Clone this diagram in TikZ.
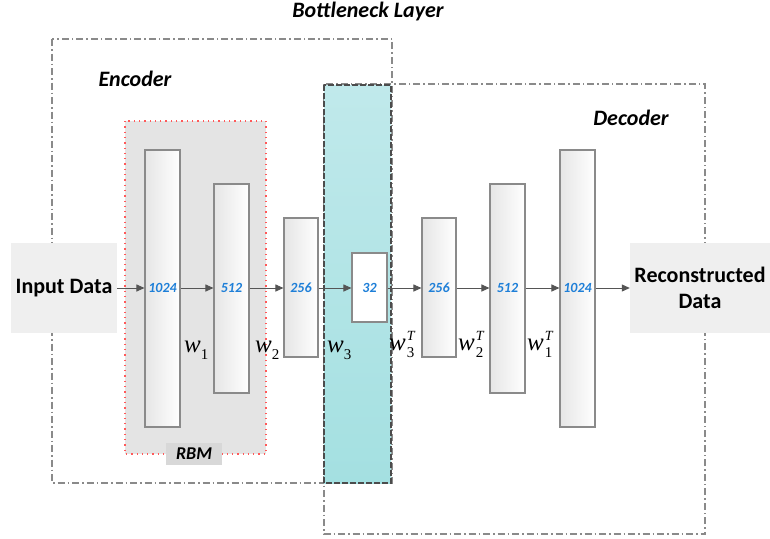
\documentclass[tikz,border=0pt]{standalone}
\usepackage{fontspec}
\setmainfont{Carlito}
\newfontfamily\wfont{Liberation Serif}
\usetikzlibrary{arrows.meta,shadows}
\definecolor{boxgray}{HTML}{8A8A8A}
\definecolor{numblue}{HTML}{1E7FD8}
\definecolor{arrgray}{HTML}{555555}
\definecolor{iobg}{HTML}{EFEFEF}
\definecolor{rbmbg}{HTML}{E4E4E4}
\definecolor{rbmlab}{HTML}{D8D8D8}
\definecolor{tealtop}{HTML}{C0E9EB}
\definecolor{tealbot}{HTML}{A4E0E1}
\newcommand\wsub[1]{{\wfont\itshape w}\raisebox{-7pt}{\fontsize{15}{15}\selectfont\wfont #1}}
\newcommand\wsubT[1]{{\wfont\itshape w}\hspace{1pt}\rlap{\raisebox{10pt}{\fontsize{14}{14}\selectfont\wfont\itshape T}}\raisebox{-7pt}{\fontsize{15}{15}\selectfont\wfont #1}}
\tikzset{
  regionbox/.style={draw=boxgray, line width=1.2pt, dash pattern=on 7pt off 3pt on 1.5pt off 3pt},
  layerbox/.style={draw=boxgray, line width=1.1pt, left color=black!10, right color=white, minimum width=35pt, inner sep=0pt,
     drop shadow={shadow xshift=1pt, shadow yshift=-1pt, opacity=0.25}},
  numlab/.style={font=\fontsize{14}{15}\selectfont\bfseries\itshape, text=numblue, inner sep=0pt},
  conn/.style={draw=arrgray, line width=1pt, -{Triangle[length=8pt,width=7pt]}},
  titlelab/.style={font=\fontsize{22}{24}\selectfont\bfseries\itshape},
  iobox/.style={fill=iobg, inner sep=0pt, font=\fontsize{22}{26}\selectfont\bfseries, align=center},
  wlab/.style={font=\fontsize{25}{26}\selectfont, anchor=base west, inner sep=0pt}
}
\begin{document}
\begin{tikzpicture}[x=1pt,y=-1pt]
\useasboundingbox (0,0) rectangle (770,538);
% RBM region
\path[fill=rbmbg] (125,121) rectangle (266,454);
\draw[red!65, line width=1.3pt, dash pattern=on 1.3pt off 4pt] (125,121) rectangle (266,454);
\node[fill=rbmlab, minimum width=56pt, minimum height=22pt, inner sep=0pt, font=\fontsize{18}{20}\selectfont\bfseries\itshape] (rbm) at (194,454) {RBM};
% encoder / decoder regions
\draw[regionbox] (52,39) rectangle (392,483);
\draw[regionbox] (324,84) rectangle (705,534);
% bottleneck
\draw[top color=tealtop, bottom color=tealbot, draw=black!70, line width=1.2pt, dash pattern=on 6pt off 2pt] (324,85) rectangle (391,483);
% titles
\node[titlelab] (tbn) at (368,12) {Bottleneck Layer};
\node[titlelab] (tenc) at (135,79) {Encoder};
\node[titlelab] (tdec) at (631,118) {Decoder};
% io boxes
\node[iobox, minimum width=106pt, minimum height=90pt] (in) at (64,288) {Input Data};
\node[iobox, minimum width=140pt, minimum height=90pt] (out) at (700,288) {Reconstructed\\[0pt]Data};
% layers
\node[layerbox, minimum height=277pt] (e1) at (162.5,288.5) {};
\node[layerbox, minimum height=209pt] (e2) at (231.5,288.5) {};
\node[layerbox, minimum width=34pt, minimum height=139pt] (e3) at (301,287.5) {};
\node[layerbox, minimum height=69pt, left color=white, right color=white] (b) at (369.5,287.5) {};
\node[layerbox, minimum width=34pt, minimum height=139pt] (d3) at (439,287.5) {};
\node[layerbox, minimum height=209pt] (d2) at (507.5,288.5) {};
\node[layerbox, minimum height=277pt] (d1) at (577.5,288.5) {};
% numbers
\node[numlab] at (162.5,288) {1024};
\node[numlab] at (231.5,288) {512};
\node[numlab] at (301,288) {256};
\node[numlab] at (369.5,288) {32};
\node[numlab] at (439,288) {256};
\node[numlab] at (507.5,288) {512};
\node[numlab] at (577.5,288) {1024};
% connectors
\draw[conn] (in.east |- 0,288) -- (e1.west |- 0,288);
\draw[conn] (e1.east |- 0,288) -- (e2.west |- 0,288);
\draw[conn] (e2.east |- 0,288) -- (e3.west |- 0,288);
\draw[conn] (e3.east |- 0,288) -- (b.west |- 0,288);
\draw[conn] (b.east |- 0,288) -- (d3.west |- 0,288);
\draw[conn] (d3.east |- 0,288) -- (d2.west |- 0,288);
\draw[conn] (d2.east |- 0,288) -- (d1.west |- 0,288);
\draw[conn] (d1.east |- 0,288) -- (out.west |- 0,288);
% weights
\node[wlab] at (184,352) {\wsub{1}};
\node[wlab] at (255,352) {\wsub{2}};
\node[wlab] at (327,352) {\wsub{3}};
\node[wlab] at (389,350) {\wsubT{3}};
\node[wlab] at (458,350) {\wsubT{2}};
\node[wlab] at (527,350) {\wsubT{1}};
\end{tikzpicture}
\end{document}
